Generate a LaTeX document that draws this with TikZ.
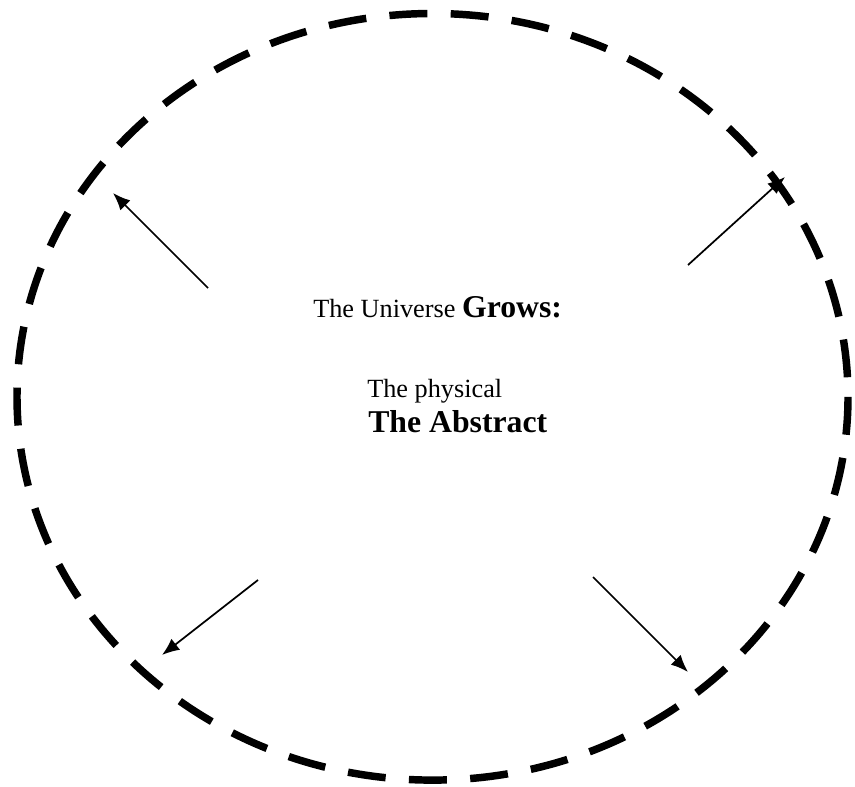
\documentclass[tikz,border=0pt]{standalone}
\usepackage{fontspec}
\setmainfont{Liberation Serif}
\usetikzlibrary{arrows.meta}

\tikzset{
  bound/.style={line width=5.6pt, dash pattern=on 28.5pt off 17.5pt},
  outarrow/.style={-{Latex[length=13pt,width=10.5pt]}, line width=1.3pt},
  txt/.style={anchor=base west, inner sep=0pt}
}

\begin{document}
\begin{tikzpicture}[x=0.75pt, y=-0.75pt]
			\useasboundingbox (0,0) rectangle (855,787);
			\draw[bound] (432.5,396.8) ellipse [x radius=415.5, y radius=383.3];

			\node[txt] (universe) at (313,318) {\fontsize{19.7}{24}\selectfont The Universe \fontsize{23.8}{28}\selectfont\bfseries Grows:};
			\node[txt] (physical) at (367,397) {\fontsize{19.7}{24}\selectfont The physical};
			\node[txt] (abstract) at (368,432) {\fontsize{23.8}{28}\selectfont\bfseries The Abstract};

			% arrows pointing out to the boundary
			\coordinate (nwA) at (208,288);  \coordinate (nwB) at (113,193);
			\coordinate (neA) at (688,265);  \coordinate (neB) at (785,177);
			\coordinate (swA) at (258,580);  \coordinate (swB) at (162,655);
			\coordinate (seA) at (593,577);  \coordinate (seB) at (688,672);
			\foreach \c in {nw, ne, sw, se}
				\draw[outarrow] (\c A) -- (\c B);
		\end{tikzpicture}
\end{document}
